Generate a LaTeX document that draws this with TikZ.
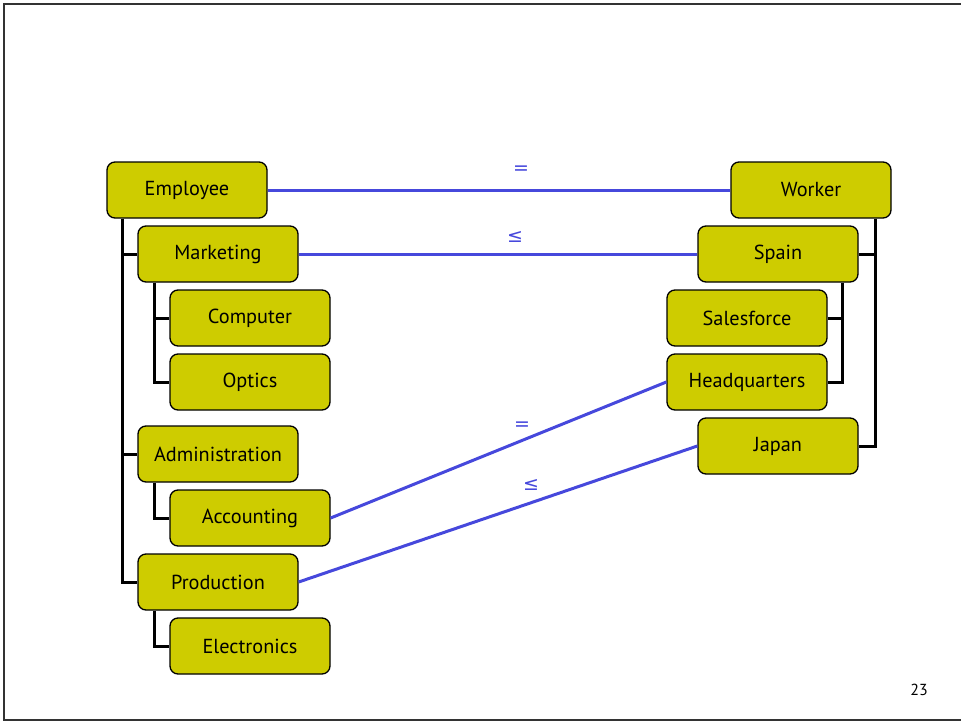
\documentclass[tikz,border=0pt]{standalone}
\usepackage{fontspec}
\setmainfont{PT Sans}
\newfontfamily\symfont{DejaVu Sans}
\usetikzlibrary{calc}
\definecolor{boxfill}{RGB}{206,204,0}
\definecolor{linkblue}{RGB}{70,72,220}
\begin{document}
\begin{tikzpicture}[x=1pt,y=-1pt,
  box/.style={draw=black,line width=1.3pt,fill=boxfill,rounded corners=8pt,
    minimum width=160pt,minimum height=56pt,inner sep=0pt,
    font=\fontsize{20.3}{22}\selectfont},
  tree/.style={draw=black,line width=3pt},
  link/.style={draw=linkblue,line width=3pt},
  rel/.style={text=linkblue,font=\symfont\fontsize{19}{21}\selectfont,inner sep=0pt}]
\useasboundingbox (0,0) rectangle (961,723);
\draw[line width=1.5pt,draw=black!80] (961,4) -- (4,4) -- (4,720) -- (961,720);
% left tree
\node[box] (emp) at (187,190) {Employee};
\node[box] (mkt) at (218,254) {Marketing};
\node[box] (cmp) at (250,318) {Computer};
\node[box] (opt) at (250,382) {Optics};
\node[box] (adm) at (218,454) {Administration};
\node[box] (acc) at (250,518) {Accounting};
\node[box] (prd) at (218,582) {Production};
\node[box] (ele) at (250,646) {Electronics};
% right tree
\node[box] (wrk) at (811,190) {Worker};
\node[box] (spn) at (778,254) {Spain};
\node[box] (sal) at (747,318) {Salesforce};
\node[box] (hq) at (747,382) {Headquarters};
\node[box] (jap) at (778,446) {Japan};
% tree connectors
\draw[tree] ([xshift=16pt]emp.south west) |- (prd.west);
\draw[tree] ([xshift=16pt]emp.south west) |- (mkt.west);
\draw[tree] ([xshift=16pt]emp.south west) |- (adm.west);
\draw[tree] ([xshift=17pt]mkt.south west) |- (opt.west);
\draw[tree] ([xshift=17pt]mkt.south west) |- (cmp.west);
\draw[tree] ([xshift=17pt]adm.south west) |- (acc.west);
\draw[tree] ([xshift=17pt]prd.south west) |- (ele.west);
\draw[tree] ([xshift=-16pt]wrk.south east) |- (jap.east);
\draw[tree] ([xshift=-16pt]wrk.south east) |- (spn.east);
\draw[tree] ([xshift=-16pt]spn.south east) |- (hq.east);
\draw[tree] ([xshift=-16pt]spn.south east) |- (sal.east);
% links
\draw[link] (emp.east) -- (wrk.west);
\draw[link] (mkt.east) -- (spn.west);
\draw[link] (acc.east) -- (hq.west);
\draw[link] (prd.east) -- (jap.west);
\node[rel] (r1) at (521,170) {=};
\node[rel] (r2) at (515,237) {≤};
\node[rel] (r3) at (522,426) {=};
\node[rel] (r4) at (531,485) {≤};
\node[font=\fontsize{16}{18}\selectfont,inner sep=0pt] (pg) at (919,690) {23};
\end{tikzpicture}
\end{document}
